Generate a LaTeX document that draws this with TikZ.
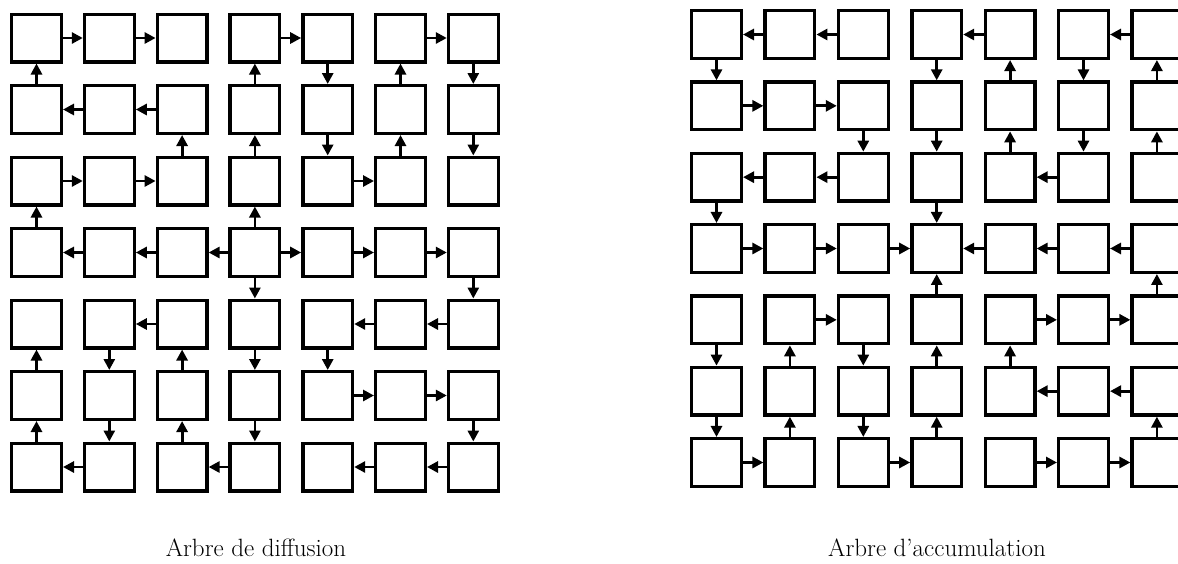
\documentclass[tikz,border=0pt]{standalone}
\usetikzlibrary{arrows.meta}
\begin{document}
\begin{tikzpicture}[x=1pt,y=-1pt,
  cell/.style={draw=black,line width=3.3pt,minimum width=49.7pt,minimum height=47.7pt,inner sep=0pt},
  arr/.style={line width=2.8pt,-{Triangle[length=11pt,width=11pt]}},
  caption/.style={anchor=base,font=\fontsize{25pt}{30pt}\selectfont}]
\useasboundingbox (0,0) rectangle (1178,563);
\clip (0,0) rectangle (1178,563);
% both grids
\foreach \r in {0,...,6}{
  \foreach \c in {0,...,6}{
    \node[cell] (L\r\c) at ({36.5+72.8*\c},{38+71.5*\r}) {};
    \node[cell] (R\r\c) at ({716.5+73.4*\c},{34.5+71.33*\r}) {};
  }
}
\foreach \a/\b in {00/01,01/02,03/04,05/06,
  11/10,12/11,
  20/21,21/22,24/25,
  31/30,32/31,33/32,33/34,34/35,35/36,
  42/41,45/44,46/45,
  54/55,55/56,
  61/60,63/62,65/64,66/65,
  10/00,13/03,04/14,15/05,06/16,
  22/12,23/13,14/24,25/15,16/26,
  30/20,33/23,
  33/43,36/46,
  50/40,41/51,52/42,43/53,44/54,
  60/50,51/61,62/52,53/63,56/66}{
  \draw[arr] (L\a) -- (L\b);
  \draw[arr] (R\b) -- (R\a);
}
\node[caption] (capL) at (256,556) {Arbre de diffusion};
\node[caption] (capR) at (937,556) {Arbre d'accumulation};
\end{tikzpicture}
\end{document}
